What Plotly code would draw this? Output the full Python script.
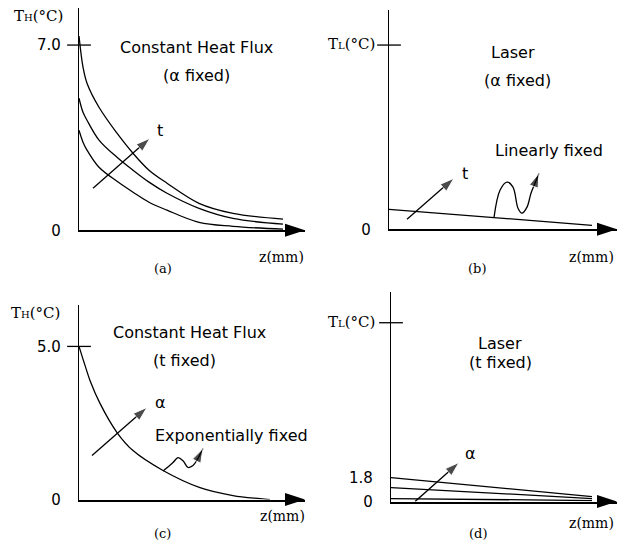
import plotly.graph_objects as go

W, H = 625, 546

# ---------------- data ----------------
# (a) constant heat flux, alpha fixed: T_H vs z for three times
a_z = [0, 0.2, 0.4, 1.0, 1.9, 2.7, 3.5, 4.4, 6.0, 7.7, 10.2]
a_T_t3 = [7.34, 6.17, 5.56, 4.65, 3.67, 2.91, 2.27, 1.78, 1.02, 0.64, 0.42]
a_T_t2 = [4.99, 4.46, 4.16, 3.41, 2.76, 2.27, 1.82, 1.40, 0.83, 0.45, 0.23]
a_T_t1 = [3.78, 3.33, 3.03, 2.38, 1.85, 1.44, 1.06, 0.76, 0.30, 0.15, 0.04]
a_tick_vals = [0, 7.0]
a_tick_text = ["0", "7.0"]

# (b) laser, alpha fixed
b_z = [0, 10.15]
b_T = [0.76, 0.15]
b_tick_vals = [0]
b_tick_text = ["0"]
b_TL_tick = 7.0
b_ptr_z = [5.25, 5.55, 5.9, 6.2, 6.45, 6.65, 6.9, 7.1, 7.3, 7.5]
b_ptr_T = [0.44, 1.48, 1.79, 1.6, 0.8, 0.61, 0.84, 1.37, 1.75, 2.13]

# (c) constant heat flux, t fixed
c_z = [0, 0.3, 0.55, 1.05, 1.9, 2.7, 4.2, 6.05, 7.7, 9.05, 9.55]
c_T = [5.0, 4.38, 3.89, 3.14, 2.19, 1.60, 0.95, 0.39, 0.13, 0.03, 0.0]
c_tick_vals = [0, 5.0]
c_tick_text = ["0", "5.0"]
c_ptr_z = [4.2, 4.7, 4.95, 5.2, 5.45, 5.7, 5.95, 6.2]
c_ptr_T = [0.93, 1.21, 1.37, 1.27, 1.05, 1.11, 1.35, 1.67]

# (d) laser, t fixed
d_z = [0, 10.05]
d_T_a3 = [1.8, 0.38]
d_T_a2 = [1.05, 0.23]
d_T_a1 = [0.23, 0.08]
d_tick_vals = [0, 1.8]
d_tick_text = ["0", "1.8"]
d_TL_tick = 13.4

# direction arrows (tail -> head)
a_arrow_z, a_arrow_T = [0.7, 3.55], [1.59, 3.48]
b_arrow_z, b_arrow_T = [0.9, 3.25], [0.38, 1.94]
c_arrow_z, c_arrow_T = [0.65, 3.4], [1.44, 3.01]
d_arrow_z, d_arrow_T = [1.2, 3.4], [0.0, 2.93]

# ---------------- geometry (pixels) ----------------
KY = 1.018  # vertical calibration
XS = 20.0  # px per z unit


def Y(v):
    return v * KY


panels = [
    dict(ax=79, ay=Y(230), top=Y(8), tip=305, ys=Y(185) / 7.0, tv=a_tick_vals, tt=a_tick_text, cross=7.0),
    dict(ax=389, ay=Y(229), top=Y(10), tip=617, ys=Y(184) / 7.0, tv=b_tick_vals, tt=b_tick_text, cross=b_TL_tick),
    dict(ax=79, ay=Y(499), top=Y(305), tip=305, ys=Y(153) / 5.0, tv=c_tick_vals, tt=c_tick_text, cross=5.0),
    dict(ax=391, ay=Y(501), top=Y(292), tip=617, ys=Y(24) / 1.8, tv=d_tick_vals, tt=d_tick_text, cross=d_TL_tick),
]

SANS = "DejaVu Sans"
SERIF = "DejaVu Serif"
LW = 1.3

fig = go.Figure()
layout = dict(width=W, height=H, margin=dict(l=0, r=0, t=0, b=0),
              paper_bgcolor="white", plot_bgcolor="white", showlegend=False)

for i, p in enumerate(panels, start=1):
    s = "" if i == 1 else str(i)
    xmax = (p["tip"] - p["ax"]) / XS
    ymax = (p["ay"] - p["top"]) / p["ys"]
    layout["xaxis" + s] = dict(domain=[p["ax"] / W, p["tip"] / W], range=[0, xmax],
                               showline=True, linecolor="black", linewidth=1.6,
                               showgrid=False, zeroline=False, showticklabels=False,
                               ticks="", anchor="y" + s, fixedrange=True)
    layout["yaxis" + s] = dict(domain=[1 - p["ay"] / H, 1 - p["top"] / H], range=[0, ymax],
                               showline=True, linecolor="black", linewidth=1.3,
                               showgrid=False, zeroline=False, ticks="",
                               tickvals=p["tv"], ticktext=p["tt"], ticklabelstandoff=14,
                               tickfont=dict(family=SANS, size=15, color="black"),
                               anchor="x" + s, fixedrange=True)
    # x-axis arrowhead
    fig.add_trace(go.Scatter(x=[xmax], y=[0], mode="markers", xaxis="x" + s, yaxis="y" + s,
                             marker=dict(symbol="arrow", angle=90, size=21, color="black"),
                             cliponaxis=False, hoverinfo="skip"))
    # y-axis tick cross
    fig.add_trace(go.Scatter(x=[0], y=[p["cross"]], mode="markers", xaxis="x" + s, yaxis="y" + s,
                             marker=dict(symbol="line-ew", size=17, line=dict(width=1.3, color="black")),
                             cliponaxis=False, hoverinfo="skip"))

line = dict(color="black", width=LW, shape="spline", smoothing=1.0)


def curve(x, y, s):
    fig.add_trace(go.Scatter(x=x, y=y, mode="lines", line=line, xaxis="x" + s, yaxis="y" + s,
                             hoverinfo="skip"))


def arrow(x, y, s, size=15, spline=False):
    ln = dict(color="black", width=LW, shape="spline" if spline else "linear")
    n = len(x)
    fig.add_trace(go.Scatter(x=x, y=y, mode="lines+markers", line=ln, xaxis="x" + s, yaxis="y" + s,
                             marker=dict(symbol="arrow", angleref="previous", color="black",
                                         size=[0] * (n - 1) + [size]),
                             cliponaxis=False, hoverinfo="skip"))


# (a)
for T in (a_T_t1, a_T_t2, a_T_t3):
    curve(a_z, T, "")
arrow(a_arrow_z, a_arrow_T, "")
# (b)
curve(b_z, b_T, "2")
arrow(b_arrow_z, b_arrow_T, "2")
arrow(b_ptr_z, b_ptr_T, "2", size=15, spline=True)
# (c)
curve(c_z, c_T, "3")
arrow(c_arrow_z, c_arrow_T, "3")
arrow(c_ptr_z, c_ptr_T, "3", size=15, spline=True)
# (d)
for T in (d_T_a1, d_T_a2, d_T_a3):
    curve(d_z, T, "4")
arrow(d_arrow_z, d_arrow_T, "4")


def P(xp, yp):
    return xp / W, 1 - Y(yp) / H


TH = "T<span style='font-size:10px'>H</span>(°C)"
TL = "T<span style='font-size:10px'>L</span>(°C)"
texts = [
    # (text, x px, y px, family, size)
    ("Constant Heat Flux", 196, 47, SANS, 16),
    ("(α fixed)", 196, 75, SANS, 16),
    (TH, 38, 16, SERIF, 15),
    ("t", 160, 130, SANS, 16),
    ("z(mm)", 281, 257, SERIF, 14),
    ("(a)", 163, 268, SERIF, 13),
    (TL, 351, 44, SERIF, 15),
    ("Laser", 513, 52, SANS, 16),
    ("(α fixed)", 517, 80, SANS, 16),
    ("t", 465, 173, SANS, 16),
    ("Linearly fixed", 549, 150, SANS, 16),
    ("z(mm)", 591, 257, SERIF, 14),
    ("(b)", 477, 268, SERIF, 13),
    (TH, 35, 313, SERIF, 15),
    ("Constant Heat Flux", 189, 332, SANS, 16),
    ("(t fixed)", 184, 360, SANS, 16),
    ("α", 160, 402, SANS, 16),
    ("Exponentially fixed", 232, 435, SANS, 16),
    ("z(mm)", 282, 515, SERIF, 14),
    ("(c)", 163, 533, SERIF, 13),
    (TL, 351, 322, SERIF, 15),
    ("Laser", 500, 343, SANS, 16),
    ("(t fixed)", 500, 362, SANS, 16),
    ("α", 470, 453, SANS, 16),
    ("z(mm)", 591, 522, SERIF, 14),
    ("(d)", 478, 533, SERIF, 13),
]
anns = []
for t, xp, yp, fam, sz in texts:
    x, y = P(xp, yp)
    anns.append(dict(text=t, x=x, y=y, xref="paper", yref="paper", showarrow=False,
                     xanchor="center", yanchor="middle",
                     font=dict(family=fam, size=sz, color="black")))
layout["annotations"] = anns

fig.update_layout(**layout)
fig.write_html("out.html", config={"displayModeBar": False},
               post_script="document.body.style.margin='0px';")
